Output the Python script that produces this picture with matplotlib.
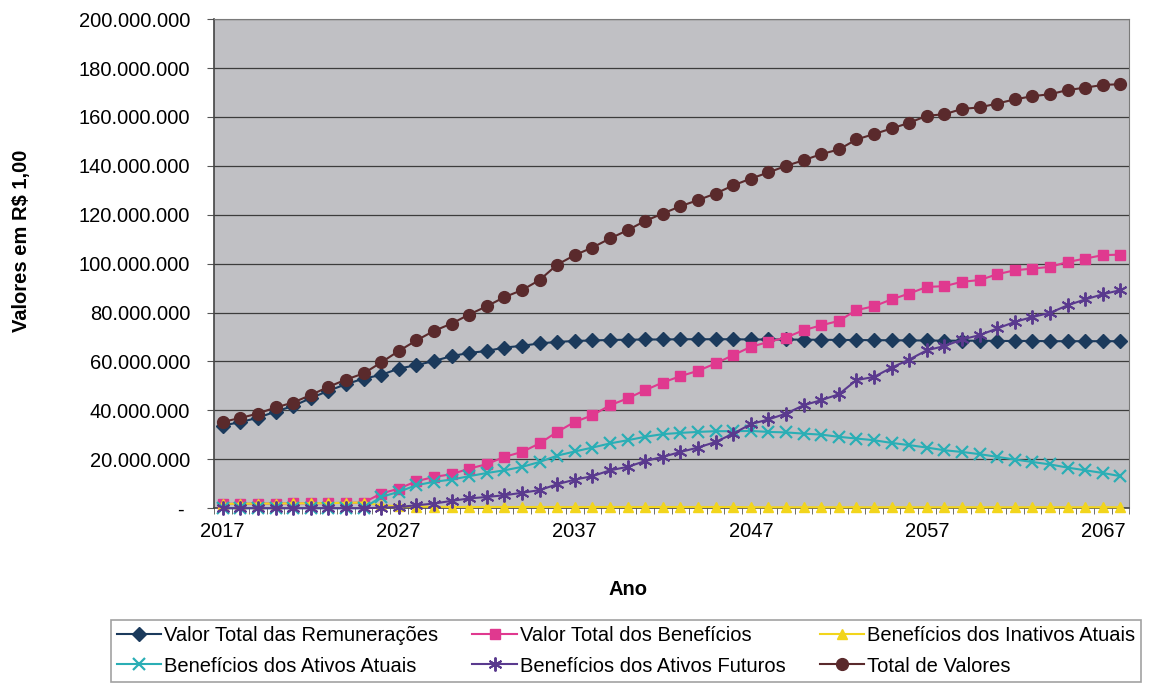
import numpy as np
import matplotlib
matplotlib.use("Agg")
import matplotlib.pyplot as plt
from matplotlib.ticker import FuncFormatter

plt.rcParams.update({
    "font.family": ["Liberation Sans", "DejaVu Sans"],
    "font.size": 14,
})

# data (R$ milhões), anos 2017-2068
anos = list(range(2017, 2069))

remuneracoes = [33.8, 35.2, 37.0, 39.5, 41.8, 45.0, 48.0, 50.7, 53.0, 54.5,
                57.1, 58.5, 60.2, 62.2, 63.5, 64.3, 65.7, 66.4, 67.4, 68.0,
                68.4, 68.6, 68.8, 68.9, 69.0, 69.0, 69.1, 69.1, 69.1, 69.1,
                69.0, 69.0, 69.0, 68.9, 68.9, 68.8, 68.8, 68.7, 68.7, 68.6,
                68.6, 68.5, 68.5, 68.5, 68.4, 68.4, 68.4, 68.3, 68.3, 68.3,
                68.3, 68.3]

beneficios = [1.8, 1.8, 1.9, 1.9, 2.0, 2.0, 2.1, 2.2, 2.3, 6.0,
              8.0, 11.0, 12.8, 13.9, 16.2, 18.0, 21.0, 23.0, 26.5, 31.2,
              35.3, 38.0, 42.1, 44.9, 48.3, 51.4, 54.0, 56.2, 59.2, 62.6,
              66.0, 68.0, 69.8, 72.8, 74.8, 76.6, 81.0, 82.6, 85.4, 87.8,
              90.5, 90.8, 92.6, 93.3, 95.7, 97.3, 98.0, 98.7, 100.7, 102.1,
              103.5, 103.7]

inativos_atuais = [1.8, 1.8, 1.9, 1.9, 2.0, 2.0, 2.1, 2.2, 2.3, 1.2,
                   0.8, 0.6, 0.6, 0.5, 0.5, 0.5, 0.5, 0.5, 0.5, 0.5,
                   0.5, 0.5, 0.5, 0.5, 0.5, 0.5, 0.5, 0.5, 0.5, 0.5,
                   0.4, 0.4, 0.4, 0.4, 0.4, 0.4, 0.4, 0.4, 0.4, 0.4,
                   0.4, 0.4, 0.4, 0.4, 0.4, 0.4, 0.4, 0.4, 0.4, 0.4,
                   0.4, 0.4]

ativos_atuais = [0, 0, 0, 0, 0, 0, 0, 0, 0, 4.6,
                 6.7, 9.4, 10.8, 11.7, 13.1, 14.4, 15.5, 16.9, 18.9, 21.5,
                 23.2, 24.8, 26.5, 27.8, 29.2, 30.3, 30.8, 31.2, 31.5, 31.5,
                 31.6, 31.2, 31.0, 30.5, 30.1, 29.2, 28.5, 27.8, 26.7, 25.8,
                 24.8, 23.7, 23.0, 22.1, 21.0, 19.9, 18.9, 17.9, 16.6, 15.5,
                 14.4, 13.1]

ativos_futuros = [0, 0, 0, 0, 0, 0, 0, 0, 0, 0.2,
                  0.5, 1.2, 1.9, 3.0, 4.0, 4.6, 5.3, 6.3, 7.4, 9.8,
                  11.7, 13.1, 15.5, 16.9, 19.3, 21.0, 23.0, 24.8, 27.1, 30.5,
                  34.4, 36.3, 38.7, 42.1, 44.2, 46.6, 52.4, 53.7, 57.5, 60.8,
                  64.6, 66.3, 69.0, 70.8, 73.5, 76.2, 78.2, 79.9, 83.0, 85.4,
                  87.5, 89.2]

total_valores = [35.3, 36.9, 38.7, 41.2, 43.2, 46.3, 49.6, 52.6, 55.1, 59.6,
                 64.3, 68.6, 72.5, 75.5, 79.2, 82.6, 86.3, 89.2, 93.3, 99.6,
                 103.5, 106.6, 110.3, 113.7, 117.5, 120.5, 123.5, 126.0, 128.7, 132.0,
                 134.8, 137.3, 140.0, 142.3, 144.8, 146.7, 150.8, 153.0, 155.3, 157.6,
                 160.5, 161.1, 163.3, 163.9, 165.5, 167.2, 168.5, 169.3, 171.0, 172.0,
                 173.1, 173.4]

x = np.array(anos)
M = 1e6

fig = plt.figure(figsize=(11.5, 6.84), dpi=100)
ax = fig.add_axes([0.186, 0.257, 0.796, 0.715])
ax.set_facecolor("#c0c0c4")

series = [
    (remuneracoes, "Valor Total das Remunerações", "#1b3a5c", "D", 7, {}),
    (beneficios, "Valor Total dos Benefícios", "#e0398f", "s", 7, {}),
    (inativos_atuais, "Benefícios dos Inativos Atuais", "#f2d51c", "^", 7, {}),
    (ativos_atuais, "Benefícios dos Ativos Atuais", "#2aaeb5", "x", 8, {"markeredgewidth": 1.6}),
    (ativos_futuros, "Benefícios dos Ativos Futuros", "#5a3a8e", (6, 2, 0), 10, {"markeredgewidth": 1.4}),
    (total_valores, "Total de Valores", "#5a2a2c", "o", 8.5, {}),
]

handles = []
for vals, label, color, mk, ms, extra in series:
    h, = ax.plot(x, np.array(vals) * M, color=color, lw=1.5, marker=mk,
                 markersize=ms, markerfacecolor=color, markeredgecolor=color,
                 label=label, clip_on=False, zorder=3, **extra)
    handles.append(h)

ax.set_xlim(2016.5, 2068.5)
ax.set_ylim(0, 200 * M)
ax.set_yticks(np.arange(0, 201, 20) * M)
ax.yaxis.set_major_formatter(FuncFormatter(
    lambda v, p: "- " if v == 0 else f"{int(round(v)):,}".replace(",", ".")))
ax.grid(axis="y", color="#3c3c3c", lw=0.9)
ax.set_axisbelow(True)

ax.set_xticks(list(range(2017, 2068, 10)))
ax.set_xticks(np.arange(2016.5, 2069, 1), minor=True)
ax.tick_params(axis="x", which="major", length=0, pad=10, labelsize=14.5)
ax.tick_params(axis="x", which="minor", length=4, direction="out", color="#555555")
ax.tick_params(axis="y", length=5, pad=12, labelsize=14.5, color="#555555")

for side in ["top", "right"]:
    ax.spines[side].set_color("#7a7a7a")
for side in ["left", "bottom"]:
    ax.spines[side].set_color("#444444")
    ax.spines[side].set_linewidth(1.2)

ax.set_xlabel("Ano", fontweight="bold", fontsize=14.5)
ax.xaxis.set_label_coords(0.452, -0.147)
ax.set_ylabel("Valores em R$ 1,00", fontweight="bold", fontsize=14.5)
ax.yaxis.set_label_coords(-0.200, 0.546)

order = [0, 3, 1, 4, 2, 5]
leg = fig.legend([handles[i] for i in order], [handles[i].get_label() for i in order],
                 ncol=3, loc="center", bbox_to_anchor=(626 / 1150, 1 - 651 / 684),
                 prop={"size": 14.5}, frameon=True, fancybox=False, edgecolor="#8a8a8a",
                 handlelength=2.2, handletextpad=0.15, columnspacing=1.7,
                 labelspacing=0.55, borderpad=0.3)
leg.get_frame().set_linewidth(1.2)

fig.savefig("out.png", dpi=100)
plt.close(fig)
